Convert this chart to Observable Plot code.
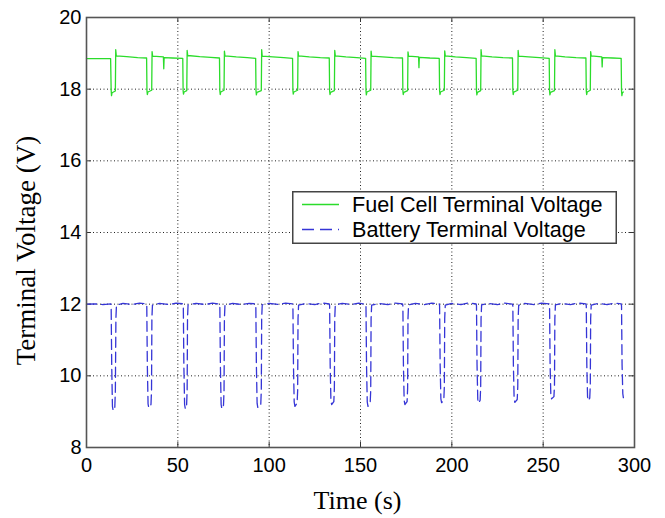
<!DOCTYPE html>
<html>
<head>
<meta charset="utf-8">
<script src="https://cdn.jsdelivr.net/npm/d3@7"></script>
<script src="https://cdn.jsdelivr.net/npm/@observablehq/plot@0.6"></script>
<style>
  html, body { margin: 0; padding: 0; background: white; }
  #wrap { position: relative; width: 665px; height: 518px; }
  #legend { position: absolute; }
</style>
</head>
<body>
<div id="wrap"></div>
<script>
// ---- tick labels / grid ----
const xTicks = [0, 50, 100, 150, 200, 250, 300];
const yTicks = [8, 10, 12, 14, 16, 18, 20];
const xGrid = [50, 100, 150, 200, 250];
const yGrid = [10, 12, 14, 16, 18];

const seriesNames = ["Fuel Cell Terminal Voltage", "Battery Terminal Voltage"];
const xLabel = "Time (s)";
const yLabel = "Terminal Voltage (V)";

// ---- Fuel cell terminal voltage [time s, volts] ----
const fuelCell = [
  [0, 18.85], [13.2, 18.85],
  [13.5, 17.97], [13.7, 17.82], [14.0, 17.9], [15.8, 17.95], [16.0, 19.1], [16.3, 18.93], [22, 18.91], [28, 18.88], [32.9, 18.87],
  [33.1, 17.96], [33.3, 17.85], [33.6, 17.92], [35.7, 17.97], [35.9, 19.05], [36.2, 18.92], [42.1, 18.9], [42.3, 18.57], [42.5, 18.88], [47, 18.87], [52.7, 18.86],
  [52.9, 17.95], [53.1, 17.86], [53.4, 17.92], [54.9, 17.96], [55.1, 19.08], [55.4, 18.94], [62, 18.91], [68, 18.89], [72.8, 18.87],
  [73.0, 17.96], [73.2, 17.85], [73.5, 17.92], [75.3, 17.97], [75.5, 19.06], [75.8, 18.93], [82, 18.9], [88, 18.88], [92.6, 18.86],
  [92.8, 17.95], [93.0, 17.84], [93.3, 17.91], [95.7, 17.96], [95.9, 19.1], [96.2, 18.92], [102, 18.9], [108, 18.88], [112.8, 18.86],
  [113.0, 17.96], [113.2, 17.86], [113.5, 17.92], [115.6, 17.97], [115.8, 19.05], [116.1, 18.93], [122, 18.9], [128, 18.88], [132.9, 18.87],
  [133.1, 17.95], [133.3, 17.85], [133.6, 17.91], [135.7, 17.96], [135.9, 19.08], [136.2, 18.93], [142, 18.9], [148, 18.88], [152.8, 18.86],
  [153.0, 17.96], [153.2, 17.84], [153.5, 17.92], [155.6, 17.97], [155.8, 19.06], [156.1, 18.92], [162, 18.9], [168, 18.88], [173.0, 18.87],
  [173.2, 17.95], [173.4, 17.85], [173.7, 17.91], [175.8, 17.96], [176.0, 19.04], [176.3, 18.92], [181.8, 18.9], [182.0, 18.6], [182.2, 18.89], [188, 18.87], [193.1, 18.86],
  [193.3, 17.96], [193.5, 17.85], [193.8, 17.92], [195.9, 17.97], [196.1, 19.07], [196.4, 18.93], [202, 18.9], [208, 18.88], [213.3, 18.86],
  [213.5, 17.95], [213.7, 17.84], [214.0, 17.91], [215.8, 17.96], [216.0, 19.1], [216.3, 18.93], [222, 18.9], [228, 18.88], [233.2, 18.87],
  [233.4, 17.96], [233.6, 17.85], [233.9, 17.92], [236.1, 17.97], [236.3, 19.08], [236.6, 18.92], [242, 18.9], [248, 18.88], [253.3, 18.86],
  [253.5, 17.95], [253.7, 17.84], [254.0, 17.91], [256.2, 17.96], [256.4, 19.1], [256.7, 18.93], [262, 18.9], [268, 18.88], [273.4, 18.87],
  [273.6, 17.96], [273.8, 17.85], [274.1, 17.92], [275.8, 17.97], [276.0, 19.05], [276.3, 18.93], [282.1, 18.9], [282.3, 18.62], [282.5, 18.88], [288, 18.87], [292.7, 18.86],
  [292.9, 17.96], [293.1, 17.82], [293.4, 17.9], [293.9, 17.92]
];

// ---- Battery terminal voltage [time s, volts] ----
const battery = [
  [0, 12.0], [4, 12.01], [9, 11.99], [13.3, 12.01],
  [13.5, 11.95], [13.8, 10.3], [14.2, 9.15], [14.6, 9.03], [15.5, 9.12], [15.8, 9.6], [16.1, 11.6], [16.4, 11.97], [20, 12.02], [25, 11.99], [29, 12.03], [32.8, 12.01],
  [33.0, 11.95], [33.3, 10.3], [33.7, 9.22], [34.1, 9.11], [35.3, 9.2], [35.6, 9.6], [35.8, 11.6], [36.1, 11.97], [40, 12.02], [45, 11.99], [49, 12.03], [52.8, 12.01],
  [53.0, 11.95], [53.3, 10.3], [53.7, 9.2], [54.1, 9.08], [54.8, 9.18], [55.1, 9.6], [55.3, 11.6], [55.6, 11.98], [60, 12.02], [65, 11.99], [69, 12.03], [72.8, 12.0],
  [73.0, 11.95], [73.3, 10.3], [73.7, 9.2], [74.1, 9.08], [75.0, 9.18], [75.3, 9.6], [75.5, 11.6], [75.8, 11.97], [80, 12.02], [85, 11.99], [89, 12.02], [92.5, 12.01],
  [92.7, 11.95], [93.0, 10.3], [93.4, 9.23], [93.8, 9.11], [95.4, 9.2], [95.7, 9.6], [95.9, 11.6], [96.2, 11.98], [100, 12.02], [105, 11.99], [109, 12.03], [112.8, 12.01],
  [113.0, 11.95], [113.3, 10.3], [113.7, 9.27], [114.1, 9.15], [115.3, 9.24], [115.6, 9.6], [115.8, 11.6], [116.1, 11.97], [120, 12.02], [125, 11.99], [129, 12.03], [132.9, 12.01],
  [133.1, 11.95], [133.4, 10.3], [133.8, 9.32], [134.2, 9.2], [135.4, 9.28], [135.7, 9.65], [135.9, 11.6], [136.2, 11.98], [140, 12.02], [145, 11.99], [149, 12.03], [152.8, 12.0],
  [153.0, 11.95], [153.3, 10.3], [153.7, 9.27], [154.1, 9.15], [155.3, 9.24], [155.6, 9.6], [155.8, 11.6], [156.1, 11.97], [160, 12.02], [165, 11.99], [169, 12.03], [173.0, 12.01],
  [173.2, 11.95], [173.5, 10.3], [173.9, 9.32], [174.3, 9.2], [175.5, 9.28], [175.8, 9.65], [176.0, 11.6], [176.3, 11.98], [180, 12.02], [185, 11.99], [189, 12.03], [193.1, 12.01],
  [193.3, 11.95], [193.6, 10.3], [194.0, 9.36], [194.4, 9.25], [195.6, 9.32], [195.9, 9.7], [196.1, 11.6], [196.4, 11.97], [200, 12.02], [205, 11.99], [209, 12.03], [213.3, 12.01],
  [213.5, 11.95], [213.8, 10.3], [214.2, 9.35], [214.6, 9.24], [215.5, 9.32], [215.8, 9.7], [216.0, 11.6], [216.3, 11.98], [220, 12.02], [225, 11.99], [229, 12.03], [233.2, 12.0],
  [233.4, 11.95], [233.7, 10.3], [234.1, 9.37], [234.5, 9.26], [235.8, 9.34], [236.1, 9.7], [236.3, 11.6], [236.6, 11.97], [240, 12.02], [245, 11.99], [249, 12.03], [253.3, 12.01],
  [253.5, 11.95], [253.8, 10.3], [254.2, 9.46], [254.6, 9.36], [255.9, 9.42], [256.2, 9.75], [256.4, 11.6], [256.7, 11.98], [260, 12.02], [265, 11.99], [269, 12.03], [273.4, 12.01],
  [273.6, 11.95], [273.9, 10.3], [274.3, 9.42], [274.7, 9.31], [275.5, 9.38], [275.8, 9.75], [276.0, 11.6], [276.3, 11.97], [280, 12.02], [285, 11.99], [289, 12.03], [292.7, 12.01],
  [292.9, 11.95], [293.2, 10.3], [293.6, 9.5], [293.9, 9.39]
];

const colors = ["#2bdc2b", "#3535d6"];
const sans = "'Liberation Sans', Arial, Helvetica, sans-serif";
const serif = "'Liberation Serif', 'Times New Roman', Times, serif";

const chart = Plot.plot({
  width: 665,
  height: 518,
  marginLeft: 86,
  marginRight: 31,
  marginTop: 17,
  marginBottom: 71,
  style: { background: "white", color: "black", fontFamily: sans, fontSize: "20px" },
  x: { domain: [0, 300] },
  y: { domain: [8, 20] },
  marks: [
    Plot.ruleX(xGrid, { x: d => d, stroke: "#222", strokeWidth: 1, strokeDasharray: "1,2.5" }),
    Plot.ruleY(yGrid, { y: d => d, stroke: "#222", strokeWidth: 1, strokeDasharray: "1,2.5" }),
    Plot.ruleX(xTicks, { x: d => d, y1: 8, y2: 8.14, stroke: "#333" }),
    Plot.ruleX(xTicks, { x: d => d, y1: 19.86, y2: 20, stroke: "#333" }),
    Plot.ruleY(yTicks, { y: d => d, x1: 0, x2: 2.7, stroke: "#333" }),
    Plot.ruleY(yTicks, { y: d => d, x1: 297.3, x2: 300, stroke: "#333" }),
    Plot.line(battery, { x: d => d[0], y: d => d[1], stroke: colors[1], strokeWidth: 1.3, strokeDasharray: "10,5" }),
    Plot.line(fuelCell, { x: d => d[0], y: d => d[1], stroke: colors[0], strokeWidth: 1.3 }),
    Plot.frame({ stroke: "#555", strokeWidth: 1.6 }),
    Plot.axisX({ ticks: xTicks, tickSize: 0, tickPadding: 10, label: null, fontSize: 20 }),
    Plot.axisY({ ticks: yTicks, tickSize: 0, tickPadding: 5, label: null, fontSize: 20 }),
    Plot.text([xLabel], { frameAnchor: "bottom", textAnchor: "middle", lineAnchor: "middle", dy: 53, dx: -3, fontFamily: serif, fontSize: 26, fill: "black" }),
    Plot.text([yLabel], { frameAnchor: "left", textAnchor: "middle", lineAnchor: "middle", rotate: -90, dx: -60, dy: 18, fontFamily: serif, fontSize: 27, fill: "black" })
  ]
});

const wrap = document.getElementById("wrap");
wrap.appendChild(chart);

// ---- legend box inside the axes ----
const lw = 325, lh = 53;
const leg = d3.create("svg")
  .attr("id", "legend")
  .attr("width", lw)
  .attr("height", lh)
  .style("left", "292px")
  .style("top", "191px");
leg.append("rect").attr("x", 0.75).attr("y", 0.75).attr("width", lw - 1.5).attr("height", lh - 1.5)
  .attr("fill", "white").attr("stroke", "#444").attr("stroke-width", 1.5);
seriesNames.forEach((name, i) => {
  const y = 13.5 + i * 25;
  leg.append("line").attr("x1", 10).attr("x2", 47).attr("y1", y).attr("y2", y)
    .attr("stroke", colors[i]).attr("stroke-width", 1.3)
    .attr("stroke-dasharray", i === 1 ? "12,6" : null);
  leg.append("text").attr("x", 60).attr("y", y).attr("dy", "0.35em")
    .attr("font-family", sans).attr("font-size", 21.6).attr("fill", "black").text(name);
});
wrap.appendChild(leg.node());
</script>
</body>
</html>
